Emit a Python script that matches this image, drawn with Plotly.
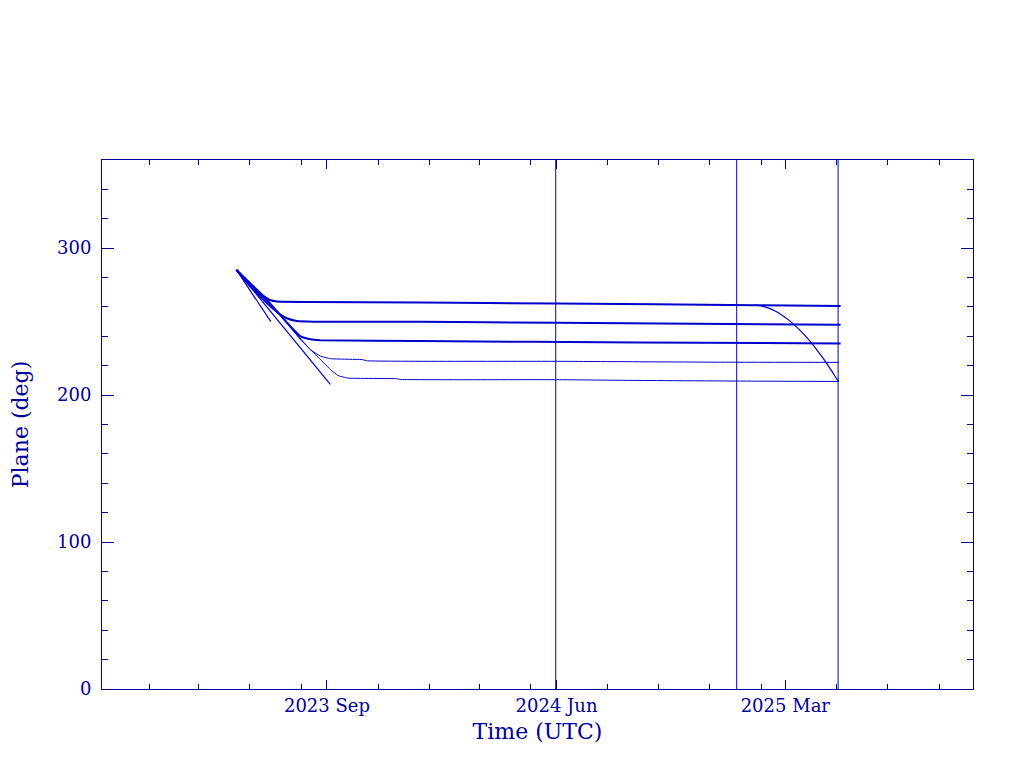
import plotly.graph_objects as go

# ---- data ----
x_range = ["2022-12-06 12:00", "2025-10-11"]
y_range = [0, 360]

major_ticks = ["2023-09-01", "2024-06-01", "2025-03-01"]
major_labels = ["2023 Sep", "2024 Jun", "2025 Mar"]
minor_ticks = ["2023-02-01", "2023-04-01", "2023-06-01", "2023-08-01",
               "2023-11-01", "2024-01-01", "2024-03-01", "2024-05-01",
               "2024-08-01", "2024-10-01", "2024-12-01", "2025-02-01",
               "2025-05-01", "2025-07-01", "2025-09-01"]
y_major = [0, 100, 200, 300]

# plane A (top, bold)
dates_a = ["2023-05-16", "2023-06-04", "2023-06-17", "2023-06-25", "2023-07-03",
           "2023-08-12", "2023-12-21", "2024-06-01", "2025-01-24", "2025-05-06"]
plane_a = [285.2, 272.5, 267.5, 264.7, 263.7, 263.4, 263.0, 262.3, 261.2, 260.7]

# satellite leaving plane A at the end
dates_a2 = ["2025-01-24", "2025-02-01", "2025-02-10", "2025-02-17", "2025-02-25",
            "2025-03-06", "2025-03-18", "2025-03-26", "2025-04-03", "2025-04-11",
            "2025-04-19", "2025-04-25", "2025-05-02", "2025-05-04"]
plane_a2 = [261.2, 260.6, 259.0, 257.2, 254.4, 250.7, 244.4, 239.6, 234.2, 228.3,
            222.0, 216.8, 210.5, 209.3]

# plane B (bold)
dates_b = ["2023-05-16", "2023-06-09", "2023-06-25", "2023-07-07", "2023-07-15",
           "2023-07-27", "2023-08-16", "2023-12-21", "2024-06-01", "2025-05-06"]
plane_b = [285.2, 269.8, 260.7, 255.0, 252.3, 250.4, 250.0, 249.9, 249.2, 247.8]

# plane C (bold)
dates_c = ["2023-05-16", "2023-06-17", "2023-07-03", "2023-07-19", "2023-07-31",
           "2023-08-12", "2023-08-24", "2023-12-21", "2024-09-09", "2025-05-06"]
plane_c = [285.2, 267.5, 257.3, 247.0, 240.2, 238.0, 237.3, 236.8, 235.8, 235.2]

# plane D (thin)
dates_d = ["2023-05-16", "2023-07-03", "2023-07-27", "2023-08-12", "2023-08-24",
           "2023-09-05", "2023-10-14", "2023-10-18", "2024-06-01", "2024-12-13", "2025-05-04"]
plane_d = [285.2, 257.3, 241.4, 231.1, 226.6, 224.8, 224.1, 223.4, 223.0, 222.4, 222.3]

# plane E (thin)
dates_e = ["2023-05-16", "2023-07-03", "2023-07-31", "2023-08-20", "2023-09-05",
           "2023-09-14", "2023-09-26", "2023-11-23", "2023-11-27", "2024-06-01",
           "2024-09-01", "2025-01-24", "2025-05-04"]
plane_e = [285.2, 257.3, 238.0, 226.6, 217.5, 213.4, 211.6, 211.2, 210.7, 210.5,
           210.0, 209.5, 209.3]

# short track
dates_f = ["2023-05-16", "2023-06-26"]
plane_f = [285.2, 250.0]

# long track
dates_g = ["2023-05-16", "2023-09-05"]
plane_g = [285.2, 207.3]

# vertical event markers
event_dates = ["2024-05-31", "2025-01-02", "2025-05-03"]

LINE = "#0000cc"
AXIS = "#000099"
FONT = "DejaVu Serif"

fig = go.Figure()

tracks = [
    (dates_a, plane_a, 2.0),
    (dates_a2, plane_a2, 1.2),
    (dates_b, plane_b, 2.0),
    (dates_c, plane_c, 2.0),
    (dates_d, plane_d, 1.0),
    (dates_e, plane_e, 1.0),
    (dates_f, plane_f, 1.2),
    (dates_g, plane_g, 1.2),
]
for xs, ys, w in tracks:
    fig.add_trace(go.Scatter(x=xs, y=ys, mode="lines",
                             line=dict(color=LINE, width=w, shape="spline", smoothing=0.4),
                             showlegend=False, hoverinfo="skip"))

for d in event_dates:
    fig.add_trace(go.Scatter(x=[d, d], y=y_range, mode="lines",
                             line=dict(color=LINE, width=1), showlegend=False,
                             hoverinfo="skip"))

fig.update_layout(
    width=1024, height=768,
    margin=dict(l=94, r=59, t=152, b=87),
    paper_bgcolor="white", plot_bgcolor="white",
    font=dict(family=FONT, color=AXIS, size=18),
    showlegend=False,
)

fig.update_xaxes(
    type="date", range=x_range, automargin=False,
    showgrid=False, zeroline=False,
    showline=True, linecolor=AXIS, linewidth=1, mirror="ticks",
    ticks="inside", ticklen=9, tickwidth=1, tickcolor=AXIS,
    tickmode="array", tickvals=major_ticks, ticktext=major_labels,
    tickfont=dict(family=FONT, size=18, color=AXIS),
    minor=dict(tickmode="array", tickvals=minor_ticks, ticks="inside",
               ticklen=5, tickwidth=1, tickcolor=AXIS, showgrid=False),
    title=dict(text="Time (UTC)", font=dict(family=FONT, size=22, color=AXIS),
               standoff=9),
)

fig.update_yaxes(
    range=y_range, automargin=False,
    showgrid=False, zeroline=False,
    showline=True, linecolor=AXIS, linewidth=1, mirror="ticks",
    ticks="inside", ticklen=12, tickwidth=1, tickcolor=AXIS,
    tickmode="array", tickvals=y_major,
    tickfont=dict(family=FONT, size=18, color=AXIS),
    ticklabelstandoff=6,
    minor=dict(dtick=20, ticks="inside", ticklen=6, tickwidth=1,
               tickcolor=AXIS, showgrid=False),
    title=dict(text="Plane (deg)", font=dict(family=FONT, size=22, color=AXIS),
               standoff=44),
)

fig.write_html("out.html")
